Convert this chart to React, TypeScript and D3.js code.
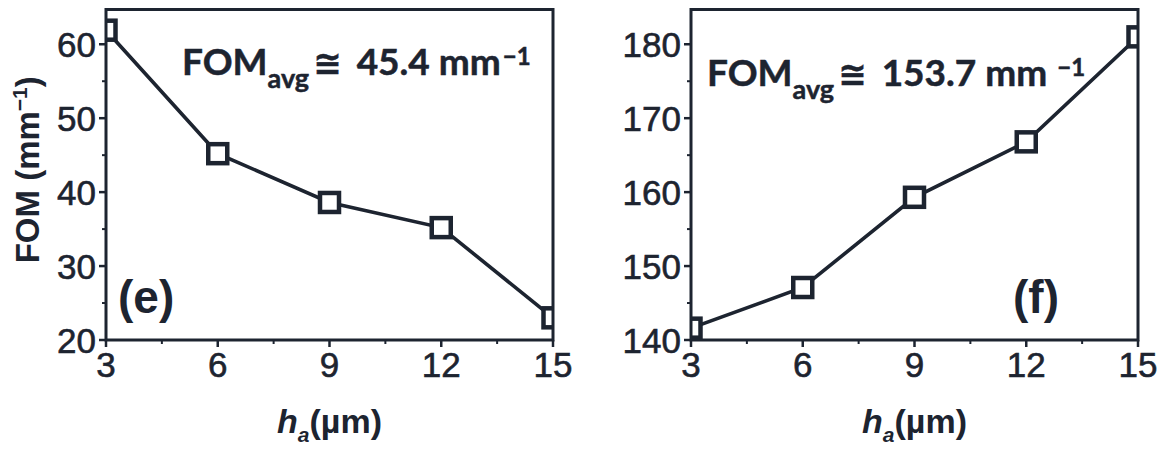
import React from "react";
import * as d3 from "d3";

// Aperture height h_a (µm) and figure of merit values for the two cases
const hValues = [3, 6, 9, 12, 15];
const fomE = [61.9, 45.2, 38.6, 35.2, 23.0];
const fomF = [141.6, 147.1, 159.3, 166.8, 181.0];
const xTickValues = [3, 6, 9, 12, 15];
const xMinorValues = [4.5, 7.5, 10.5, 13.5];
const yTicksE = [20, 30, 40, 50, 60];
const yMinorE = [25, 35, 45, 55];
const yTicksF = [140, 150, 160, 170, 180];
const yMinorF = [145, 155, 165, 175];
const avgE = "45.4";
const avgF = "153.7";

const INK = "#1d2430";
const W = 1163;
const H = 452;
const TOP = 9.5;
const BOTTOM = 340;

type PanelProps = {
  id: string;
  left: number;
  right: number;
  values: number[];
  yDomain: [number, number];
  yTicks: number[];
  yMinor: number[];
  avg: string;
  avgX: number;
  avgY: number;
  avgGap: boolean;
  tag: string;
  tagX: number;
  yTitle: boolean;
};

function Panel(p: PanelProps) {
  const x = d3.scaleLinear().domain([3, 15]).range([p.left, p.right]);
  const y = d3.scaleLinear().domain(p.yDomain).range([BOTTOM, TOP]);
  const line = d3
    .line<number>()
    .x((_, i) => x(hValues[i]))
    .y((d) => y(d));
  const ms = 19;
  const clipId = `clip-${p.id}`;
  const cx = (p.left + p.right) / 2;
  return (
    <g>
      <defs>
        <clipPath id={clipId}>
          <rect x={p.left} y={TOP} width={p.right - p.left} height={BOTTOM - TOP} />
        </clipPath>
      </defs>
      <g clipPath={`url(#${clipId})`}>
        <path d={line(p.values) || ""} fill="none" stroke={INK} strokeWidth={3.6} />
        {p.values.map((v, i) => (
          <rect
            key={i}
            x={x(hValues[i]) - ms / 2}
            y={y(v) - ms / 2}
            width={ms}
            height={ms}
            fill="#fff"
            stroke={INK}
            strokeWidth={4.5}
          />
        ))}
      </g>
      {/* frame */}
      <rect
        x={p.left}
        y={TOP}
        width={p.right - p.left}
        height={BOTTOM - TOP}
        fill="none"
        stroke={INK}
        strokeWidth={3}
      />
      {/* x ticks */}
      {xTickValues.map((t) => (
        <g key={`xt${t}`}>
          <line x1={x(t)} x2={x(t)} y1={BOTTOM} y2={BOTTOM + 7} stroke={INK} strokeWidth={2.5} />
          <text
            x={x(t)}
            y={377}
            textAnchor="middle"
            fontFamily="'Liberation Sans', Arial, sans-serif"
            fontSize={35}
            fill={INK}
            stroke={INK}
            strokeWidth={0.6}
          >
            {t}
          </text>
        </g>
      ))}
      {xMinorValues.map((t) => (
        <line key={`xm${t}`} x1={x(t)} x2={x(t)} y1={BOTTOM} y2={BOTTOM + 4} stroke={INK} strokeWidth={2} />
      ))}
      {/* y ticks */}
      {p.yTicks.map((t) => (
        <g key={`yt${t}`}>
          <line x1={p.left - 7} x2={p.left} y1={y(t)} y2={y(t)} stroke={INK} strokeWidth={2.5} />
          <text
            x={p.left - 10}
            y={y(t) + 12.5}
            textAnchor="end"
            fontFamily="'Liberation Sans', Arial, sans-serif"
            fontSize={35}
            fill={INK}
            stroke={INK}
            strokeWidth={0.6}
          >
            {t}
          </text>
        </g>
      ))}
      {p.yMinor.map((t) => (
        <line key={`ym${t}`} x1={p.left - 4} x2={p.left} y1={y(t)} y2={y(t)} stroke={INK} strokeWidth={2} />
      ))}
      {/* x title */}
      <text
        x={cx}
        y={433}
        textAnchor="middle"
        fontFamily="'Liberation Sans', Arial, sans-serif"
        fontWeight={700}
        fontSize={34}
        fill={INK}
      >
        <tspan fontStyle="italic">h</tspan>
        <tspan fontStyle="italic" fontSize={21} dy={9}>a</tspan>
        <tspan dy={-9}>(µm)</tspan>
      </text>
      {/* y title */}
      {p.yTitle && (
        <text
          transform={`translate(39,${(TOP + BOTTOM) / 2 - 5}) rotate(-90)`}
          textAnchor="middle"
          fontFamily="'Liberation Sans', Arial, sans-serif"
          fontWeight={700}
          fontSize={33}
          fill={INK}
        >
          FOM (mm
          <tspan fontSize={21} dy={-12}>−1</tspan>
          <tspan dy={12}>)</tspan>
        </text>
      )}
      {/* average annotation */}
      <text
        x={p.avgX}
        y={p.avgY}
        fontFamily="Lato, 'Open Sans', sans-serif"
        fontWeight={700}
        fontSize={37}
        fill={INK}
        stroke={INK}
        strokeWidth={0.5}
      >
        FOM
        <tspan fontSize={27} dy={13}>avg</tspan>
        <tspan dy={-13} dx={4} fontFamily="'DejaVu Sans', sans-serif" fontSize={34}>≅</tspan>
        <tspan dx={15}>{p.avg}</tspan>
        <tspan dx={9}>mm</tspan>
        <tspan fontSize={24} dx={p.avgGap ? 10 : 2} dy={-10}>−1</tspan>
      </text>
      {/* panel tag */}
      <text
        x={p.tagX}
        y={313}
        fontFamily="'Liberation Sans', Arial, sans-serif"
        fontWeight={700}
        fontSize={46}
        fill={INK}
      >
        {p.tag}
      </text>
    </g>
  );
}

export default function App() {
  return (
    <svg
      width={W}
      height={H}
      viewBox={`0 0 ${W} ${H}`}
      style={{ position: "absolute", left: 0, top: 0, background: "#fff" }}
    >
      <rect width={W} height={H} fill="#fff" />
      <Panel
        id="e"
        left={106}
        right={553}
        values={fomE}
        yDomain={[20, 64.7]}
        yTicks={yTicksE}
        yMinor={yMinorE}
        avg={avgE}
        avgX={182}
        avgY={75}
        avgGap={false}
        tag="(e)"
        tagX={118}
        yTitle={true}
      />
      <Panel
        id="f"
        left={691}
        right={1138}
        values={fomF}
        yDomain={[140, 184.7]}
        yTicks={yTicksF}
        yMinor={yMinorF}
        avg={avgF}
        avgX={707}
        avgY={86}
        avgGap={true}
        tag="(f)"
        tagX={1013}
        yTitle={false}
      />
    </svg>
  );
}
